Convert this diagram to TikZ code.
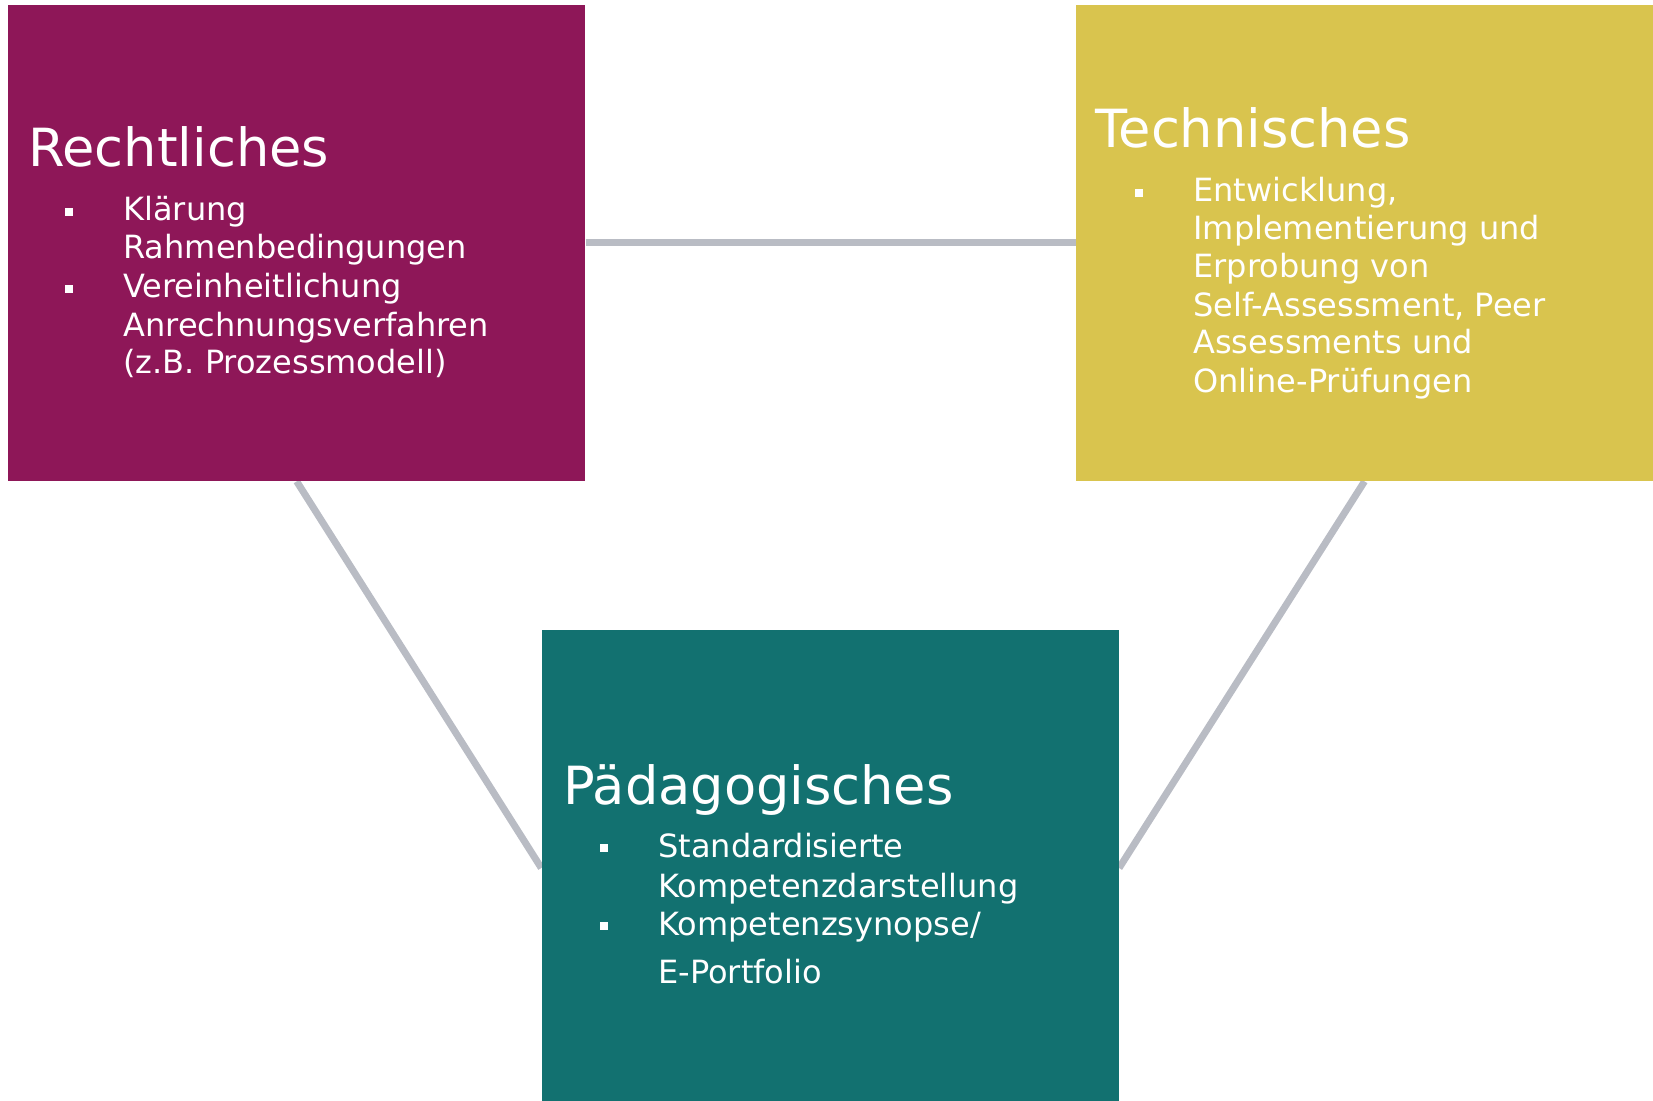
\documentclass[tikz,border=0pt]{standalone}
\usepackage{fontspec}
\setmainfont{DejaVu Sans}
\usetikzlibrary{positioning,backgrounds}
\definecolor{rechtlila}{HTML}{8E1758}
\definecolor{technikgelb}{HTML}{D9C44E}
\definecolor{paedteal}{HTML}{127170}
\definecolor{linie}{HTML}{B9BCC4}
\tikzset{
	feld/.style={draw=none, minimum width=288.5pt, minimum height=238pt, inner sep=0pt},
	titel/.style={anchor=base west, inner sep=0pt, text=white, font=\fontsize{26.3}{30}\selectfont},
	zeile/.style={anchor=base west, inner sep=0pt, text=white, font=\fontsize{16}{19}\selectfont},
	marke/.style={fill=white, minimum size=4pt, inner sep=0pt},
	verbindung/.style={draw=linie, line width=3.5pt}
}

\begin{document}
\begin{tikzpicture}[x=0.5pt, y=-0.5pt]
	\useasboundingbox (0,0) rectangle (1653,1101);
	% die drei Felder
	\node[feld, fill=rechtlila] (recht) at (296.7,243) {};
	\node[feld, fill=technikgelb] (technik) at (1364.5,243) {};
	\node[feld, fill=paedteal] (paed) at (830.2,868) {};
	\begin{scope}[on background layer]
		\draw[verbindung] (recht.east) -- (technik.west);
		\draw[verbindung] (recht.south) -- (paed.west);
		\draw[verbindung] (technik.south) -- (paed.east);
	\end{scope}
	% Rechtliches
	\node[titel] (recht-titel) at (28,167) {Rechtliches};
	\node[marke] (recht-m1) at (69,212) {};
	\node[marke] (recht-m2) at (69,289) {};
	\foreach \text/\y [count=\i] in {Klärung/221, Rahmenbedingungen/259, Vereinheitlichung/298, Anrechnungsverfahren/336, {(z.B. Prozessmodell)}/373}
		\node[zeile] (recht-\i) at (123,\y) {\text};
	% Technisches
	\node[titel] (technik-titel) at (1095,148) {Technisches};
	\node[marke] (technik-m1) at (1138.5,193.5) {};
	\foreach \text/\y [count=\i] in {{Entwicklung,}/202, Implementierung und/240, Erprobung von/278, {Self-Assessment, Peer}/317, Assessments und/354, Online-Prüfungen/393}
		\node[zeile] (technik-\i) at (1193,\y) {\text};
	% Paedagogisches
	\node[titel] (paed-titel) at (563,804) {Pädagogisches};
	\node[marke] (paed-m1) at (603.5,848) {};
	\node[marke] (paed-m2) at (603.5,926) {};
	\foreach \text/\y [count=\i] in {Standardisierte/857, Kompetenzdarstellung/897, {Kompetenzsynopse/}/935, E-Portfolio/983}
		\node[zeile] (paed-\i) at (658,\y) {\text};
\end{tikzpicture}
\end{document}
